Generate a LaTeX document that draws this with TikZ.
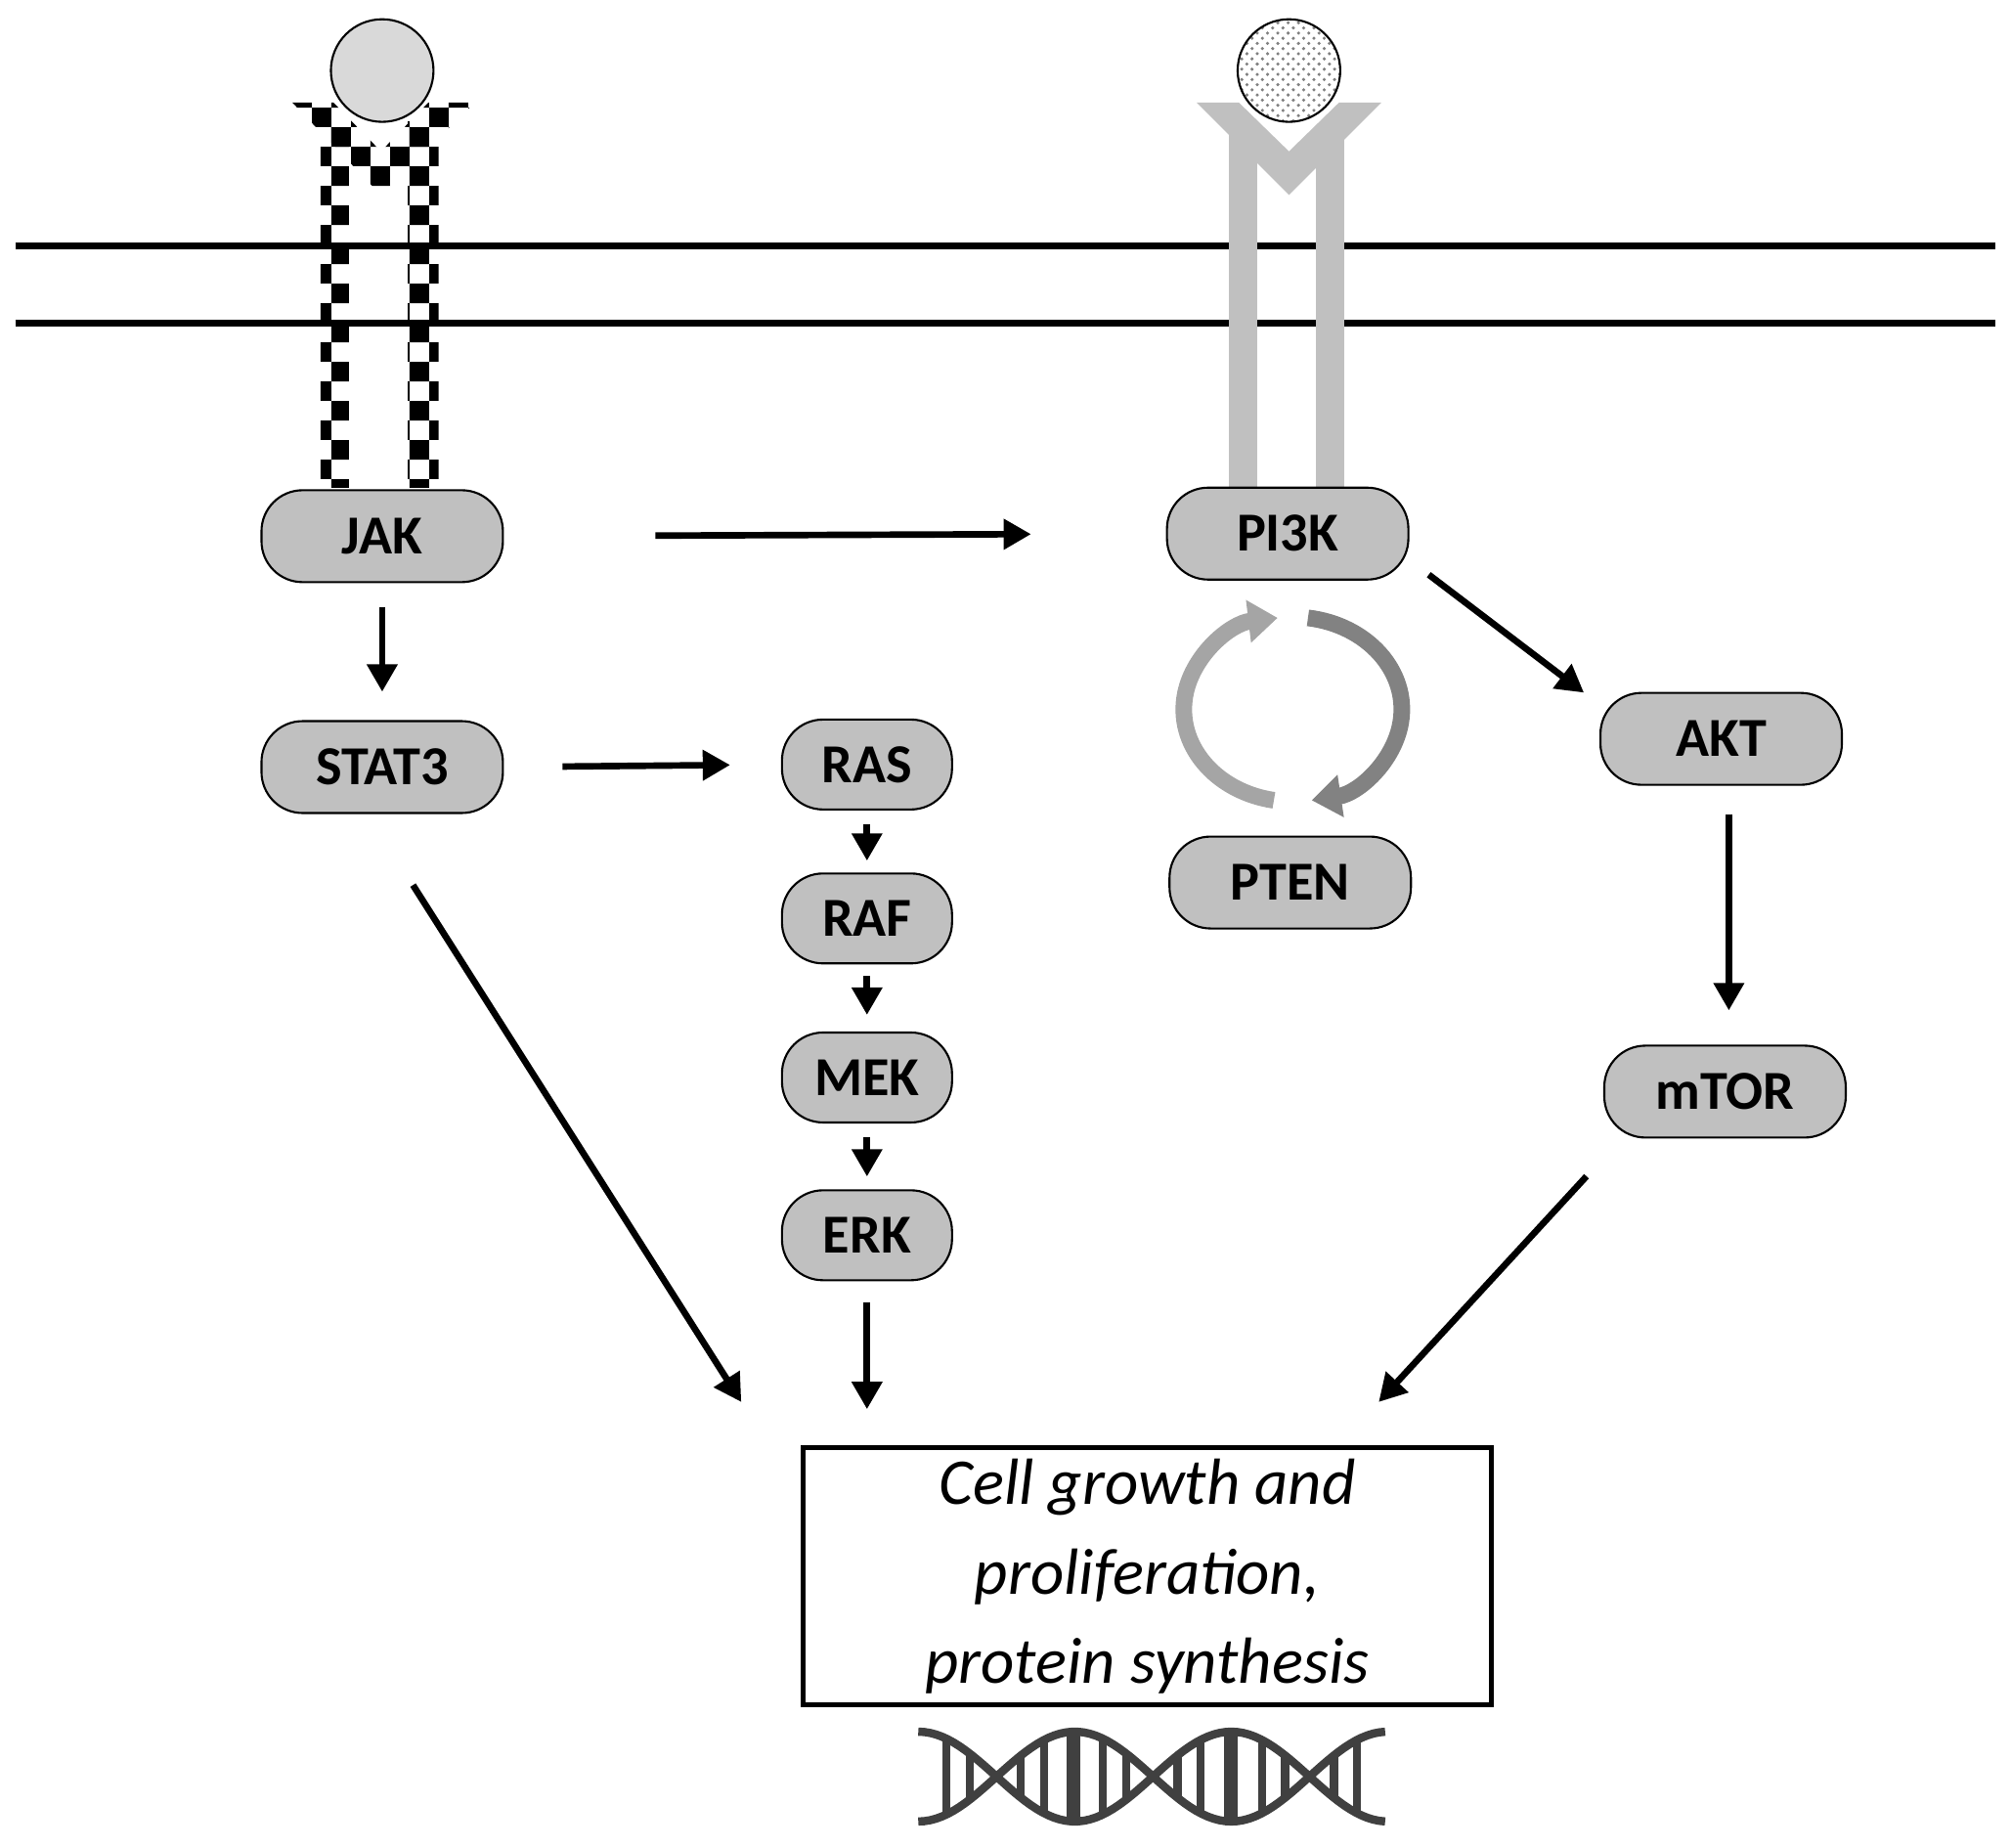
\documentclass[tikz,border=0pt]{standalone}
\usepackage{fontspec}
\setmainfont{Carlito}
\usetikzlibrary{arrows.meta}
\usetikzlibrary{patterns}
\definecolor{ngray}  {RGB}{192,192,192}
\definecolor{lgray}  {RGB}{217,217,217}
\definecolor{cgray}  {RGB}{165,165,165}
\definecolor{dgray}  {RGB}{130,130,130}
\definecolor{dnagray}{RGB}{64,64,64}
\tikzset{
    kinase/.style={draw=black, fill=ngray, rounded corners=0.42cm, line width=0.6pt,
             minimum width=2.47cm, minimum height=0.94cm, font=\fontsize{16}{18}\bfseries\selectfont},
    small/.style={kinase, minimum width=1.74cm, minimum height=0.92cm},
    signal/.style={-{Triangle[length=0.28cm,width=0.3cm]}, line width=1.9pt},
    membrane/.style={line width=2pt},
    cycle/.style={-{Triangle[length=0.3cm,width=0.42cm]}, line width=0.17cm},
    dna/.style={draw=dnagray, line width=2.4pt}
  }
\begin{document}
\begin{tikzpicture}[x=0.01312cm, y=-0.01312cm]
 \useasboundingbox (0,0) rectangle (1568,1440);
 %membrane
     \draw[membrane] (12,192) -- (1556,192);
     \draw[membrane] (12,252) -- (1556,252);
 %receptor left
     \fill[pattern=checkerboard] (250,95) rectangle (272,380);
     \fill[pattern=checkerboard] (318,95) rectangle (342,380);
     \fill[pattern=checkerboard] (228,80) -- (260,80) -- (297,118) -- (334,80) -- (370,80) -- (297,152) -- cycle;
     \draw[fill=lgray, line width=0.6pt] (298,55) circle (40);
 %receptor right
     \fill[ngray] (958,100) rectangle (980,380);
     \fill[ngray] (1026,100) rectangle (1048,380);
     \fill[ngray] (933,80) -- (966,80) -- (1005,118) -- (1044,80) -- (1077,80) -- (1005,152) -- cycle;
     \draw[pattern=crosshatch dots, pattern color=gray, line width=0.6pt] (1005,55) circle (40);
 %kinases
     \node[kinase] (jak) at (298,418) {JAK};
     \node[kinase] (pi3k) at (1004,416) {PI3K};
     \node[kinase] (stat3) at (298,598) {STAT3};
     \node[kinase] (akt) at (1342,576) {AKT};
     \node[kinase] (mtor) at (1345,851) {mTOR};
     \node[kinase] (pten) at (1006,688) {PTEN};
     \node[small] (ras) at (676,596) {RAS};
     \node[small] (raf) at (676,716) {RAF};
     \node[small] (mek) at (676,840) {MEK};
     \node[small] (erk) at (676,963) {ERK};
 %outcome
     \node[draw, line width=1.4pt, minimum width=7.05cm, minimum height=2.6cm, align=center,
           font=\fontsize{19}{26}\itshape\selectfont] (cell) at (894.5,1229)
           {Cell growth and\\ proliferation,\\ protein synthesis};
 %arrows
     \draw[signal, shorten <=1.55cm, shorten >=1.38cm] (jak.east) -- (pi3k.west);
     \draw[signal, shorten <=0.25cm, shorten >=0.29cm] (jak.south) -- (stat3.north);
     \draw[signal, shorten <=0.6cm, shorten >=0.52cm] (stat3.east) -- (ras.west);
     \draw[signal, shorten <=0.14cm, shorten >=0.12cm] (ras.south) -- (raf.north);
     \draw[signal, shorten <=0.12cm, shorten >=0.17cm] (raf.south) -- (mek.north);
     \draw[signal, shorten <=0.14cm, shorten >=0.13cm] (mek.south) -- (erk.north);
     \draw[signal, shorten <=0.22cm, shorten >=0.37cm] (erk.south) -- (cell.north -| erk.south);
     \draw[signal, shorten <=0.29cm, shorten >=0.35cm] (akt.south -| 1348,0) -- (mtor.north -| 1348,0);
     \coordinate (s3a) at (322,690);
     \coordinate (s3b) at (578,1093);
     \draw[signal] (s3a) -- (s3b);
     \coordinate (pka) at (1114,448);
     \coordinate (pkb) at (1235,540);
     \draw[signal] (pka) -- (pkb);
     \coordinate (mta) at (1237,917);
     \coordinate (mtb) at (1075,1093);
     \draw[signal] (mta) -- (mtb);
 %cycle pi3k pten
     \draw[cycle, draw=cgray] (1008,553) ++(100:85 and 72) arc[start angle=100, end angle=262, x radius=85, y radius=72];
     \draw[cycle, draw=dgray] (1008,553) ++(278:85 and 72) arc[start angle=278, end angle=440, x radius=85, y radius=72];
 %dna
     \draw[dna] plot[domain=716:1080, samples=80] (\x, {1385-35*cos((\x-716)/122*180)});
     \draw[dna] plot[domain=716:1080, samples=80] (\x, {1385+35*cos((\x-716)/122*180)});
     \foreach \r in {738,756,796,814,860,878,918,936,984,1002,1040,1058} {
        \pgfmathsetmacro\ya{1385-35*cos((\r-716)/122*180)}
        \pgfmathsetmacro\yb{1385+35*cos((\r-716)/122*180)}
        \draw[dna] (\r,\ya) -- (\r,\yb);
     }
     \foreach \r in {837,960}
        \draw[dna, line width=4pt] (\r,1350) -- (\r,1420);
 \end{tikzpicture}
\end{document}
